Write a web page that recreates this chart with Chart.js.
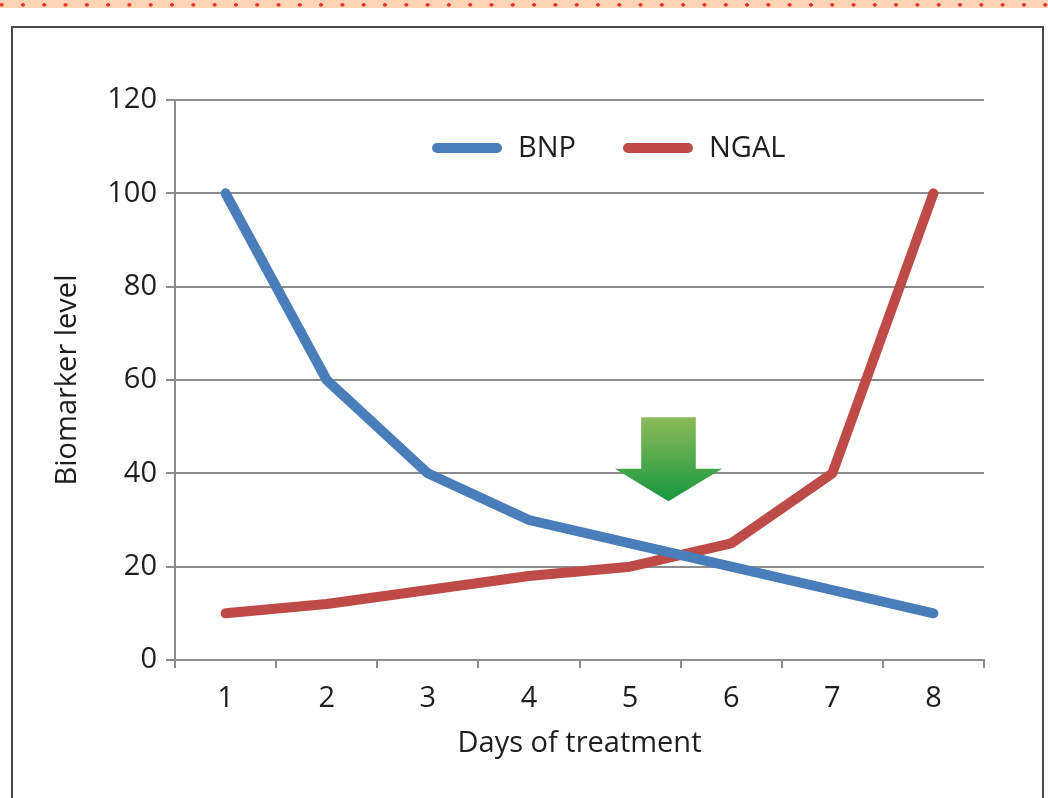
<!DOCTYPE html>
<html>
<head>
<meta charset="utf-8">
<script src="https://cdn.jsdelivr.net/npm/chart.js@4/dist/chart.umd.min.js"></script>
<style>
  html, body { margin: 0; padding: 0; background: #fff; }
  body { width: 1048px; height: 798px; position: relative; overflow: hidden; }
  .strip {
    position: absolute; left: 0; top: 0; width: 1048px; height: 8px;
    background-color: #fdd5b6;
    background-image: radial-gradient(circle at 50% 60%, #f0302a 1.6px, transparent 2.1px);
    background-size: 21.3px 8px;
    background-position: -9px 0;
  }
  .frame {
    position: absolute; left: 11px; top: 26px; width: 1029px; height: 800px;
    border: 2px solid #4a4a4a; border-bottom: none;
  }
  .wrap { position: absolute; left: 0; top: 0; width: 1048px; height: 798px; }
</style>
</head>
<body>
<div class="strip"></div>
<div class="frame"></div>
<div class="wrap"><canvas id="myChart" width="1048" height="798"></canvas></div>
<script>
document.addEventListener('DOMContentLoaded', function () {

    const days = ['1', '2', '3', '4', '5', '6', '7', '8'];
    const bnp = [100, 60, 40, 30, 25, 20, 15, 10];
    const ngal = [10, 12, 15, 18, 20, 25, 40, 100];

    // arrow marker, in axis units (category index / biomarker level)
    const arrow = { x: 4.38, shaftHalf: 0.27, headHalf: 0.53, top: 52, headBase: 41, tip: 34 };

    const textColor = '#1e1e1e';
    const gridColor = '#8c8c8c';
    const tickFont = { family: 'Open Sans', size: 29 };
    const titleFont = { family: 'Open Sans', size: 29 };

    // Function to draw the green arrow
    const arrowPlugin = {
        id: 'greenArrow',
        afterDatasetsDraw(chart) {
            const xs = chart.scales.x, ys = chart.scales.y;
            const ctx = chart.ctx;
            const cx = xs.getPixelForValue(arrow.x);
            const sL = xs.getPixelForValue(arrow.x - arrow.shaftHalf);
            const sR = xs.getPixelForValue(arrow.x + arrow.shaftHalf);
            const hL = xs.getPixelForValue(arrow.x - arrow.headHalf);
            const hR = xs.getPixelForValue(arrow.x + arrow.headHalf);
            const yTop = ys.getPixelForValue(arrow.top);
            const yBase = ys.getPixelForValue(arrow.headBase);
            const yTip = ys.getPixelForValue(arrow.tip);

            const grad = ctx.createLinearGradient(0, yTop, 0, yTip);
            grad.addColorStop(0, '#8dbb5a');
            grad.addColorStop(1, '#17973f');

            ctx.save();
            ctx.beginPath();
            ctx.moveTo(sL, yTop);
            ctx.lineTo(sR, yTop);
            ctx.lineTo(sR, yBase);
            ctx.lineTo(hR, yBase);
            ctx.lineTo(cx, yTip);
            ctx.lineTo(hL, yBase);
            ctx.lineTo(sL, yBase);
            ctx.closePath();
            ctx.fillStyle = grad;
            ctx.fill();
            ctx.restore();
        }
    };

    // legend drawn inside the plot area, like the original
    const innerLegend = {
        id: 'innerLegend',
        afterDraw(chart) {
            const ctx = chart.ctx;
            const area = chart.chartArea;
            let x = area.left + 257;
            const y = area.top + 48;
            ctx.save();
            ctx.font = '29px "Open Sans"';
            ctx.textBaseline = 'middle';
            chart.data.datasets.forEach(function (ds) {
                ctx.strokeStyle = ds.borderColor;
                ctx.lineWidth = 10;
                ctx.lineCap = 'round';
                ctx.beginPath();
                ctx.moveTo(x + 5, y);
                ctx.lineTo(x + 65, y);
                ctx.stroke();
                ctx.fillStyle = textColor;
                ctx.fillText(ds.label, x + 86, y + 1);
                x += 86 + ctx.measureText(ds.label).width + 47;
            });
            ctx.restore();
        }
    };

    const ctx = document.getElementById('myChart').getContext('2d');

    new Chart(ctx, {
        type: 'line',
        data: {
            labels: days,
            datasets: [{
                label: 'BNP',
                data: bnp,
                borderColor: '#4a7ebb',
                backgroundColor: '#4a7ebb',
                borderWidth: 10,
                borderJoinStyle: 'round',
                borderCapStyle: 'round',
                pointRadius: 0,
                fill: false
            }, {
                label: 'NGAL',
                data: ngal,
                borderColor: '#be4b48',
                backgroundColor: '#be4b48',
                borderWidth: 10,
                borderJoinStyle: 'round',
                borderCapStyle: 'round',
                pointRadius: 0,
                fill: false
            }]
        },
        options: {
            responsive: false,
            animation: false,
            layout: { padding: { left: 50, top: 100, right: 64, bottom: 36 } },
            plugins: {
                tooltip: { enabled: false },
                legend: { display: false }
            },
            scales: {
                x: {
                    offset: true,
                    afterFit: function (scale) { scale.height = 102; },
                    grid: {
                        offset: true,
                        drawOnChartArea: false,
                        tickLength: 8,
                        color: gridColor,
                        lineWidth: 2
                    },
                    border: { color: gridColor, width: 2 },
                    ticks: { color: textColor, font: tickFont, padding: 13 },
                    title: {
                        display: true,
                        text: 'Days of treatment',
                        color: textColor,
                        font: titleFont,
                        padding: { top: 0, bottom: 1 }
                    }
                },
                y: {
                    min: 0,
                    max: 120,
                    afterFit: function (scale) { scale.width = 125; },
                    grid: { color: gridColor, lineWidth: 2, tickLength: 9 },
                    border: { color: gridColor, width: 2 },
                    ticks: { stepSize: 20, color: textColor, font: tickFont, padding: 9 },
                    title: {
                        display: true,
                        text: 'Biomarker level',
                        color: textColor,
                        font: titleFont,
                        padding: { top: 0, bottom: 0 }
                    }
                }
            }
        },
        plugins: [arrowPlugin, innerLegend]
    });
});
</script>
</body>
</html>
